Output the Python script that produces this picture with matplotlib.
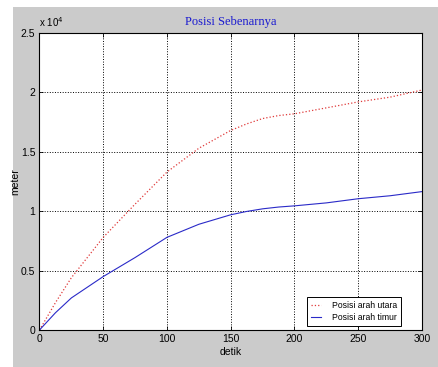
import matplotlib
matplotlib.rcParams['figure.dpi'] = 100
import matplotlib.pyplot as plt
from matplotlib.patches import Rectangle
from matplotlib.ticker import FuncFormatter

# Values (time in detik, position in meter)
detik = [0, 12.5, 25, 50, 75, 100, 125, 150, 162.5, 175, 187.5, 200, 225, 250, 275, 300]
arah_utara = [0, 2300, 4400, 7800, 10600, 13300, 15300, 16800, 17350, 17800, 18050, 18200,
              18700, 19200, 19600, 20200]
arah_timur = [0, 1450, 2700, 4500, 6100, 7800, 8900, 9700, 9980, 10200, 10350, 10450,
              10700, 11050, 11300, 11650]
xticks = [0, 50, 100, 150, 200, 250, 300]
yticks = [0, 5000, 10000, 15000, 20000, 25000]

fig = plt.figure(figsize=(4.39, 3.67), facecolor='white')
# grey MATLAB-style figure panel
fig.patches.append(Rectangle((13 / 439, 0), 1, 1 - 7 / 367, transform=fig.transFigure,
                             facecolor='#cbcbcb', edgecolor='none', zorder=-10))

ax = fig.add_axes([39.5 / 439, 37 / 367, 382.5 / 439, 297 / 367])
ax.set_facecolor('white')

ax.plot(detik, arah_utara, color='#e03a3a', linestyle=':', linewidth=0.9, label='Posisi arah utara')
ax.plot(detik, arah_timur, color='#2a2ac8', linestyle='-', linewidth=0.8, label='Posisi arah timur')

ax.set_xlim(0, 300)
ax.set_ylim(0, 25000)
ax.set_xticks(xticks)
ax.set_yticks(yticks)
ax.yaxis.set_major_formatter(FuncFormatter(lambda v, p: '%g' % (v / 1e4)))
ax.grid(True, color='black', linestyle=':', linewidth=0.7)
ax.tick_params(direction='in', top=True, right=True, length=3, width=0.6,
               labelsize=7.5, colors='black', pad=3)
for lab in ax.get_xticklabels() + ax.get_yticklabels():
    lab.set_family('Liberation Sans')
for s in ax.spines.values():
    s.set_linewidth(0.8)

ax.text(0.0, 1.012, r'x 10$^{4}$', transform=ax.transAxes, fontsize=7,
        family='Liberation Sans', ha='left', va='bottom')
ax.set_title('Posisi Sebenarnya', color='#1a1ad0', family='Liberation Serif',
             fontsize=9, pad=6)
ax.set_xlabel('detik', family='Liberation Sans', fontsize=7.5, labelpad=2)
ax.set_ylabel('meter', family='Liberation Sans', fontsize=7.5)
ax.yaxis.set_label_coords(-0.05, 0.5)

leg = ax.legend(loc='lower right', bbox_to_anchor=(0.944, 0.0135),
                prop={'family': 'Liberation Sans', 'size': 6.2}, fancybox=False,
                framealpha=1, edgecolor='black', handlelength=1.2,
                borderpad=0.45, labelspacing=0.35, handletextpad=1.2, borderaxespad=0)
leg.get_frame().set_linewidth(0.7)

plt.savefig('out.png', dpi=100)
